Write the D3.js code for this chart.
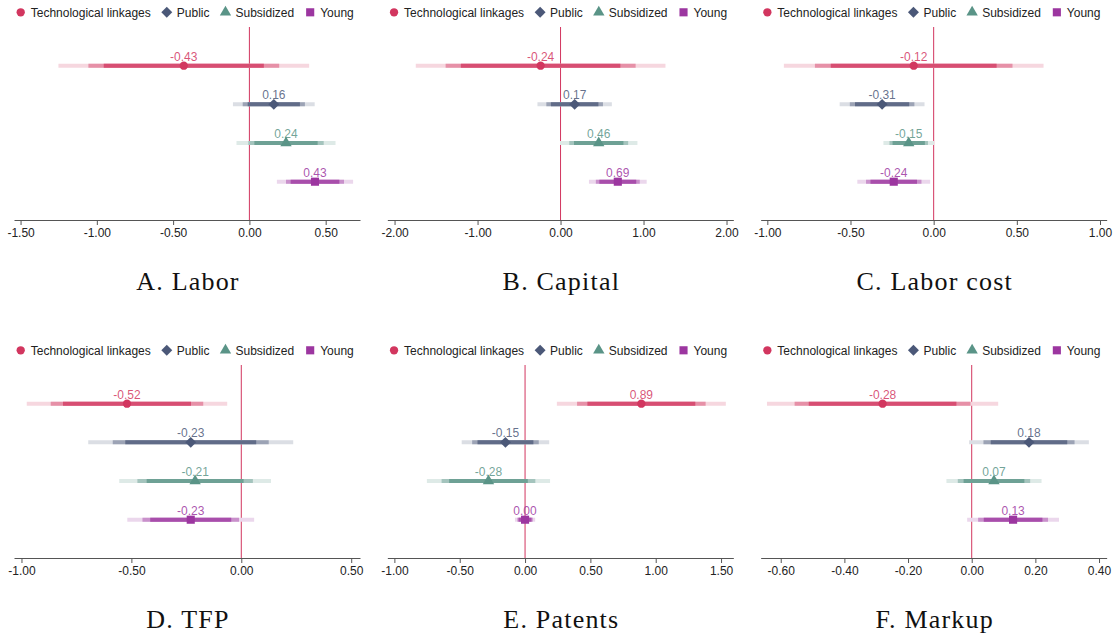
<!DOCTYPE html>
<html>
<head>
<meta charset="utf-8">
<script src="https://cdn.jsdelivr.net/npm/d3@7"></script>
<style>
  body { margin: 0; background: #fff; }
  svg text { font-family: "Liberation Sans", Arial, sans-serif; }
</style>
</head>
<body>
<div id="chart"></div>
<script>
const panelTitles = ["A. Labor", "B. Capital", "C. Labor cost", "D. TFP", "E. Patents", "F. Markup"];
const seriesNames = ["Technological linkages", "Public", "Subsidized", "Young"];
const seriesColors = ["#d2365f", "#4b5878", "#5a9487", "#9c36a0"];

// point estimates, one row per panel
const estimates = [
    [-0.43, 0.16, 0.24, 0.43],
    [-0.24, 0.17, 0.46, 0.69],
    [-0.12, -0.31, -0.15, -0.24],
    [-0.52, -0.23, -0.21, -0.23],
    [0.89, -0.15, -0.28, 0.00],
    [-0.28, 0.18, 0.07, 0.13]
];
// standard errors
const stdErrors = [
    [0.319, 0.104, 0.126, 0.097],
    [0.584, 0.174, 0.181, 0.135],
    [0.303, 0.099, 0.059, 0.085],
    [0.177, 0.181, 0.134, 0.112],
    [0.251, 0.130, 0.183, 0.030],
    [0.141, 0.073, 0.058, 0.056]
];
const ciZ = [2.576, 1.96, 1.645];   // 99%, 95%, 90%
const ciShade = [0.2, 0.55, 0.88];

const xDomains = [
    [-1.543, 0.725],
    [-2.087, 2.082],
    [-1.04, 1.04],
    [-1.034, 0.54],
    [-1.054, 1.594],
    [-0.663, 0.424]
];
const xTicks = [
    [-1.5, -1, -0.5, 0, 0.5],
    [-2, -1, 0, 1, 2],
    [-1, -0.5, 0, 0.5, 1],
    [-1, -0.5, 0, 0.5],
    [-1, -0.5, 0, 0.5, 1, 1.5],
    [-0.6, -0.4, -0.2, 0, 0.2, 0.4]
];

const width = 1120;
const height = 637;
const panelW = width / 3;
const rowH = 338;

const svg = d3.select("#chart")
    .append("svg")
    .attr("width", width)
    .attr("height", height);

const symbols = [
    d3.symbol().type(d3.symbolCircle).size(54),
    d3.symbol().type(d3.symbolSquare).size(60),   // rotated -> diamond
    d3.symbol().type(d3.symbolTriangle).size(56),
    d3.symbol().type(d3.symbolSquare).size(66)
];
function drawMarker(sel, j, cx, cy) {
    sel.append("path")
        .attr("d", symbols[j]())
        .attr("fill", seriesColors[j])
        .attr("transform", `translate(${cx},${cy})` + (j === 1 ? " rotate(45)" : ""));
}

panelTitles.forEach((title, i) => {
    const col = i % 3, row = Math.floor(i / 3);
    const g = svg.append("g")
        .attr("transform", `translate(${col * panelW},${row * rowH})`);

    const x = d3.scaleLinear().domain(xDomains[i]).range([14, 360]);
    const y = d3.scalePoint().domain(seriesNames).range([65.7, 181.7]);

    // zero line
    g.append("line")
        .attr("x1", x(0)).attr("x2", x(0))
        .attr("y1", 27).attr("y2", 220)
        .attr("stroke", seriesColors[0])
        .attr("stroke-width", 1);

    // confidence intervals
    seriesNames.forEach((name, j) => {
        const est = estimates[i][j], se = stdErrors[i][j];
        ciZ.forEach((z, k) => {
            g.append("line")
                .attr("x1", x(est - z * se))
                .attr("x2", x(est + z * se))
                .attr("y1", y(name)).attr("y2", y(name))
                .attr("stroke", d3.interpolateRgb("#ffffff", seriesColors[j])(ciShade[k]))
                .attr("stroke-width", 4);
        });
        drawMarker(g, j, x(est), y(name));
        g.append("text")
            .attr("x", x(est))
            .attr("y", y(name) - 5)
            .attr("text-anchor", "middle")
            .attr("font-size", 12)
            .attr("fill", seriesColors[j])
            .attr("fill-opacity", 0.85)
            .text(est.toFixed(2));
    });

    // x axis
    const axis = g.append("g")
        .attr("transform", "translate(0,220)")
        .call(d3.axisBottom(x)
            .tickValues(xTicks[i])
            .tickFormat(d => d.toFixed(2))
            .tickSize(5)
            .tickSizeOuter(0));
    axis.select(".domain").attr("stroke", "#555");
    axis.selectAll(".tick line").attr("stroke", "#555");
    axis.selectAll(".tick text")
        .attr("font-size", 12)
        .attr("fill", "#222")
        .attr("font-family", "Liberation Sans, Arial, sans-serif");

    // legend
    const legend = g.append("g").attr("transform", "translate(0,12.3)");
    let cursor = 0;
    seriesNames.forEach((name, j) => {
        drawMarker(legend, j, cursor, 0);
        const t = legend.append("text")
            .attr("x", cursor + 10)
            .attr("y", 4.3)
            .attr("font-size", 12)
            .attr("fill", "#222")
            .text(name);
        cursor += 10 + t.node().getComputedTextLength() + 16;
    });
    const legendW = cursor - 16 + 4.5;
    legend.attr("transform", `translate(${185 - legendW / 2 + 4.5},12.3)`);

    // panel title
    g.append("text")
        .attr("x", 188)
        .attr("y", 290)
        .attr("text-anchor", "middle")
        .attr("font-size", 26)
        .attr("letter-spacing", 1.2)
        .attr("fill", "#111")
        .style("font-family", "'Liberation Serif', 'Times New Roman', serif")
        .text(title);
});
</script>
</body>
</html>
